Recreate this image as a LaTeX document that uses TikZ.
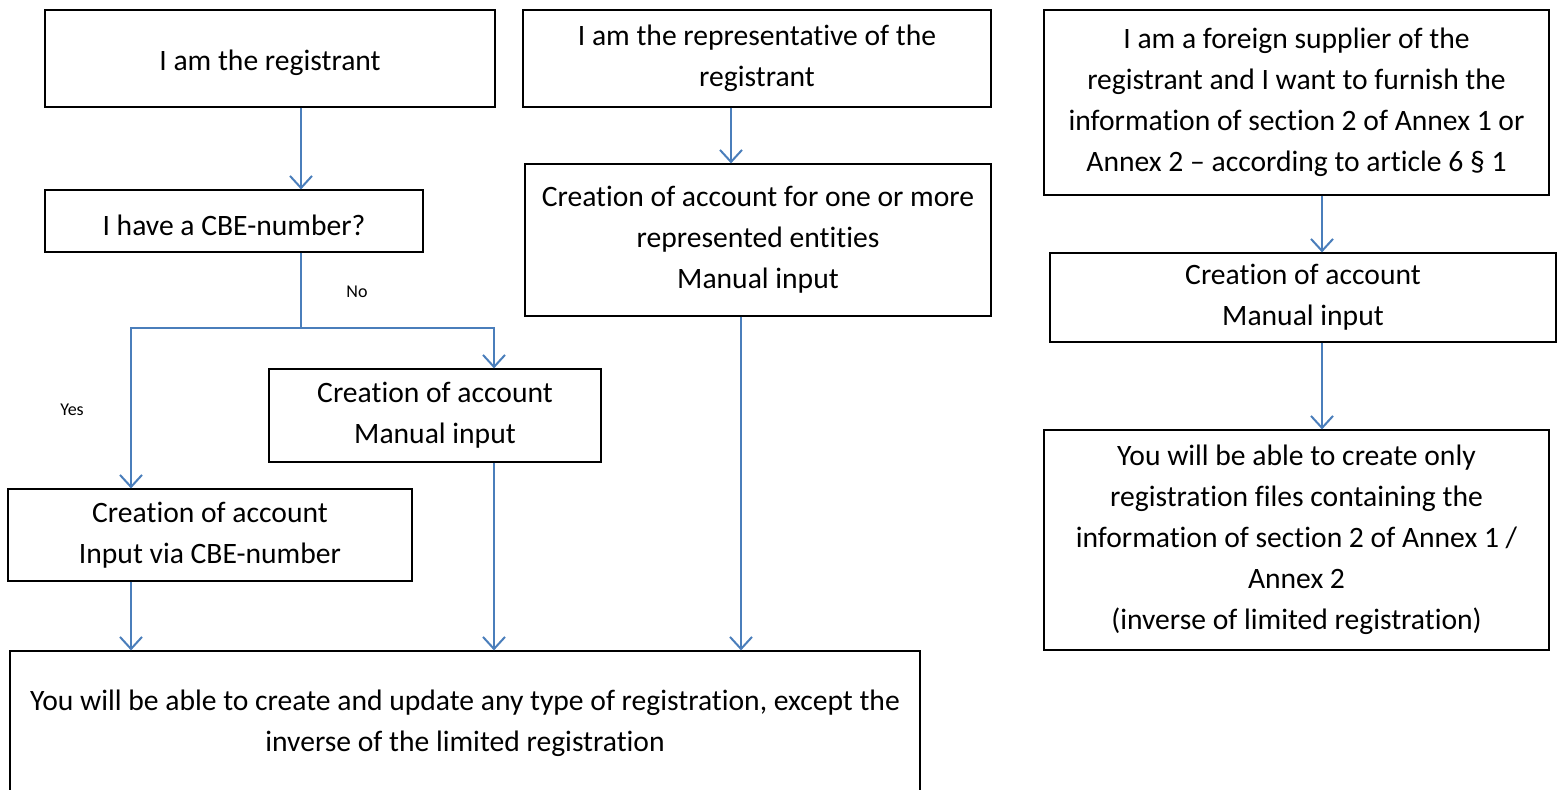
\documentclass[tikz,border=0pt]{standalone}
\usepackage{fontspec}
\setmainfont[RawFeature={-liga;-clig;-dlig;-calt;-rlig}]{Carlito}
\usetikzlibrary{arrows.meta}
\definecolor{flowblue}{HTML}{4A7EBB}
\tikzset{
  box/.style={draw,line width=0.6pt,align=center,inner sep=0pt,font=\fontsize{14.8}{20.5}\selectfont,
    execute at begin node={\rule{0pt}{14.5pt}}},
  arr/.style={flowblue,line width=1pt,-{Straight Barb[length=6pt,width=11pt]}},
  lbl/.style={font=\fontsize{9}{11}\selectfont}
}
\begin{document}
\begin{tikzpicture}[x=0.5pt,y=-0.5pt]
\useasboundingbox (0,0) rectangle (1557,789);
% left column
\node[box,minimum width=225pt,minimum height=48.5pt](reg) at (270,58.5){I am the registrant};
\node[box,minimum width=189pt,minimum height=31pt](cbe) at (234,221){I have a CBE-number?};
\node[box,minimum width=166pt,minimum height=46.5pt](manacc) at (435,415.5){Creation of account\\Manual input};
\node[box,minimum width=202pt,minimum height=46pt](cbeacc) at (210,535){Creation of account\\Input via CBE-number};
% middle column
\node[box,minimum width=234pt,minimum height=48.5pt](rep) at (757,58.5){I am the representative of the\\registrant};
\node[box,minimum width=233pt,minimum height=76pt](repacc) at (758,240){Creation of account for one or more\\represented entities\\Manual input};
\node[box,minimum width=455pt,minimum height=72pt](res) at (465,723){You will be able to create and update any type of registration, except the\\inverse of the limited registration};
% right column
\node[box,minimum width=252.5pt,minimum height=92.5pt](for) at (1296.5,102.5){I am a foreign supplier of the\\registrant and I want to furnish the\\information of section 2 of Annex 1 or\\Annex 2 -- according to article 6 \S\ 1};
\node[box,minimum width=253pt,minimum height=44.5pt](foracc) at (1303,297.5){Creation of account\\Manual input};
\node[box,minimum width=252.5pt,minimum height=110pt](forres) at (1296.5,540){You will be able to create only\\registration files containing the\\information of section 2 of Annex 1 /\\Annex 2\\(inverse of limited registration)};
% columns of the connectors
\coordinate (c1) at (301,0);
\coordinate (yescol) at (131,0);
\coordinate (nocol) at (494,0);
\coordinate (c2) at (731,0);
\coordinate (c3) at (741,0);
\coordinate (c4) at (1322,0);
\coordinate (fork) at (301,328);
\draw[arr] (reg.south -| c1) -- (cbe.north -| c1);
\draw[flowblue,line width=1pt] (cbe.south -| c1) -- (fork);
\draw[arr] (fork) -| (cbeacc.north -| yescol);
\draw[arr] (fork) -| (manacc.north -| nocol);
\draw[arr] (cbeacc.south -| yescol) -- (res.north -| yescol);
\draw[arr] (manacc.south -| nocol) -- (res.north -| nocol);
\draw[arr] (rep.south -| c2) -- (repacc.north -| c2);
\draw[arr] (repacc.south -| c3) -- (res.north -| c3);
\draw[arr] (for.south -| c4) -- (foracc.north -| c4);
\draw[arr] (foracc.south -| c4) -- (forres.north -| c4);
\node[lbl](no) at (357,292){No};
\node[lbl](yes) at (72,410){Yes};
\end{tikzpicture}
\end{document}
